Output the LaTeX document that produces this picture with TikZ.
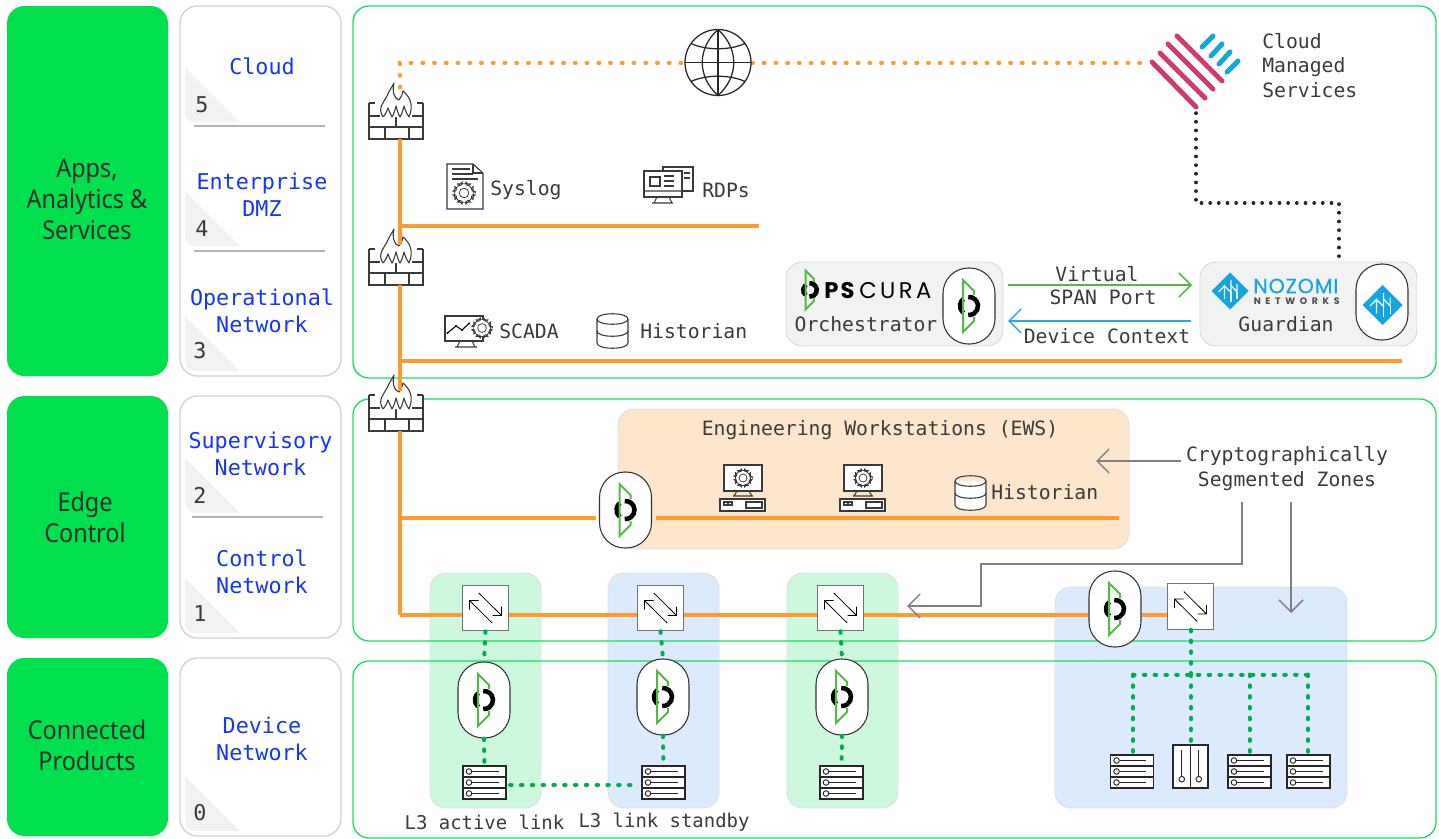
\documentclass[tikz,border=0pt]{standalone}
\usepackage{fontspec}
\usetikzlibrary{arrows.meta}
\setmainfont{DejaVu Sans Mono}
\newfontfamily\labfont[FakeStretch=0.9]{Noto Sans}
\newfontfamily\brandfont{Poppins}
\definecolor{bandgreen}{HTML}{00E04F}
\definecolor{framegreen}{HTML}{14DE62}
\definecolor{labblue}{HTML}{1437F5}
\definecolor{txt}{HTML}{3A3A3A}
\definecolor{greybd}{HTML}{D2D2D2}
\definecolor{tri}{HTML}{F1F2F2}
\definecolor{orangeln}{HTML}{FF9A2E}
\definecolor{zgreen}{HTML}{CCF8DD}
\definecolor{zblue}{HTML}{DBEBFD}
\definecolor{zpeach}{HTML}{FEE6CC}
\definecolor{dotgreen}{HTML}{00AE50}
\definecolor{logogreen}{HTML}{55B947}
\definecolor{arrblue}{HTML}{29ABE2}
\definecolor{nozblue}{HTML}{12A5DF}
\definecolor{pinkcl}{HTML}{D2386C}
\definecolor{icon}{HTML}{3A3A3A}
\tikzset{
  x=0.75pt,y=-0.75pt,
  bandbox/.style={fill=bandgreen,draw=none,rounded corners=13pt},
  levelbox/.style={fill=white,draw=greybd,line width=1pt,rounded corners=13pt},
  framebox/.style={draw=framegreen,line width=0.95pt,rounded corners=12pt},
  zonebox/.style={draw=black!12,line width=0.7pt,rounded corners=12pt},
  greybox/.style={fill=tri,draw=black!14,line width=0.7pt,rounded corners=12pt},
  sepline/.style={draw=black!30,line width=0.8pt},
  bandlabel/.style={font=\labfont\fontsize{19.5}{23.2}\selectfont,text=txt!80!black,align=center,inner sep=0},
  levellabel/.style={font=\fontsize{16.3}{20.3}\selectfont,text=labblue,align=center,inner sep=0},
  levelnum/.style={font=\fontsize{16.3}{20}\selectfont,text=txt,inner sep=0},
  monotext/.style={font=\fontsize{14.8}{18.3}\selectfont,text=txt,inner sep=0,align=center},
  monoleft/.style={monotext,anchor=west,align=left},
  smalltext/.style={font=\fontsize{14.2}{18}\selectfont,text=txt,inner sep=0,align=center},
  orangebus/.style={draw=orangeln,line width=2.4pt},
  orangedot/.style={draw=orangeln,line width=2.3pt,line cap=round,dash pattern=on 1.3pt off 7.5pt},
  blackdot/.style={draw=black!85,line width=2.6pt,line cap=round,dash pattern=on 0.2pt off 6.3pt},
  greendot/.style={draw=dotgreen,line width=3pt,line cap=round,dash pattern=on 1.2pt off 6.9pt},
  greyarrow/.style={draw=gray,line width=1.1pt,-{Straight Barb[length=9pt,width=18pt,line width=1.1pt]}},
  greenarrow/.style={draw=logogreen,line width=1.1pt,-{Straight Barb[length=9pt,width=18pt,line width=1.1pt]}},
  bluearrow/.style={draw=arrblue,line width=1.1pt,-{Straight Barb[length=9pt,width=18pt,line width=1.1pt]}},
  capsulebox/.style={rectangle,draw=black!80,fill=white,line width=0.8pt,minimum width=39pt,minimum height=57pt,rounded corners=19pt,inner sep=0},
  switchbox/.style={rectangle,draw=black!55,fill=white,line width=0.9pt,minimum width=34pt,minimum height=34pt,inner sep=0},
  serverbox/.style={rectangle,draw=none,minimum width=32pt,minimum height=25pt,inner sep=0},
  panelbox/.style={rectangle,draw=none,minimum width=26pt,minimum height=32pt,inner sep=0},
  ghost/.style={rectangle,draw=none,inner sep=0},
  iconline/.style={draw=icon,line width=0.8pt},
  pics/gearicon/.style={code={
    \draw[draw=icon,line width=0.55pt,fill=white,line join=round] (0:#1)
      \foreach \a in {0,45,...,315}{ -- (\a-8:#1) -- (\a-13:#1*0.74) -- (\a-32:#1*0.74) -- (\a-37:#1) } -- cycle;
    \draw[draw=icon,line width=0.55pt] (0,0) circle ({#1*0.42});
  }},
  pics/opslogo/.style={code={
    \draw[line width=3.4pt,black] (130:9) arc[start angle=130,end angle=230,radius=9];
    \draw[line width=3.4pt,black] (-95:9) arc[start angle=-95,end angle=95,radius=9];
    \draw[logogreen,line width=1.5pt,line join=miter] (5,-11) -- (5,-15) -- (-6,-26) -- (-6,26) -- (5,15) -- (5,11);
  }},
  pics/nozlogo/.style={code={
    \fill[nozblue] (-#1,0) -- (0,-#1) -- (#1,0) -- (0,#1) -- cycle;
    \draw[white,line width=0.9pt,line join=miter] (-#1*0.62,#1*0.05) -- (-#1*0.3,-#1*0.28) -- (-#1*0.3,#1*0.42);
    \draw[white,line width=0.9pt,line join=miter] (-#1*0.3,-#1*0.28) -- (#1*0.05,#1*0.08) -- (#1*0.05,-#1*0.6);
    \draw[white,line width=0.9pt,line join=miter] (#1*0.05,#1*0.62) -- (#1*0.05,#1*0.08);
    \draw[white,line width=0.9pt,line join=miter] (#1*0.05,-#1*0.3) -- (#1*0.38,#1*0.05) -- (#1*0.38,-#1*0.38);
    \draw[white,line width=0.9pt,line join=miter] (#1*0.38,#1*0.05) -- (#1*0.38,#1*0.45);
  }},
  pics/firewallicon/.style={code={
    \fill[white] (-27,-8) rectangle (27,28);
    \draw[iconline,line join=round] (-27,-8) -- (-21,-8) (27,-8) -- (21,-8);
    \draw[iconline] (-27,-8) -- (-27,28) -- (27,28) -- (27,-8)
      (-27,16) -- (27,16) (-27,5) -- (-16,5) (27,5) -- (16,5) (0,5) -- (0,16) (-11,16) -- (-11,28) (13,16) -- (13,28);
    \fill[white] (-13,6) .. controls (-19,-3) and (-12,-9) .. (-9,-15) .. controls (-7,-20) and (-4,-24) .. (-2,-28)
      .. controls (-4,-20) and (-2,-12) .. (3,-11) .. controls (5,-14) and (7,-17) .. (7,-20)
      .. controls (14,-14) and (18,-6) .. (13,6) -- cycle;
    \draw[iconline,line join=round] (-13,6) .. controls (-19,-3) and (-12,-9) .. (-9,-15) .. controls (-7,-20) and (-4,-24) .. (-2,-28)
      .. controls (-4,-20) and (-2,-12) .. (3,-11) .. controls (5,-14) and (7,-17) .. (7,-20)
      .. controls (14,-14) and (18,-6) .. (13,6)
      .. controls (10,2) and (9,-2) .. (8,-5) .. controls (7,-1) and (6,3) .. (4,6)
      .. controls (2,3) and (1,-2) .. (0,-5) .. controls (-1,-1) and (-2,3) .. (-4,6)
      .. controls (-6,3) and (-7,-1) .. (-8,-3) .. controls (-9,0) and (-11,4) .. (-13,6);
  }},
  pics/servericon/.style={code={
    \draw[draw=black!85,line width=0.9pt,fill=white] (-21.5,-16.5) rectangle (21.5,16.5);
    \draw[draw=black!85,line width=0.9pt] (-21.5,-5.5) -- (21.5,-5.5) (-21.5,5.5) -- (21.5,5.5);
    \foreach \r in {-11,0,11}{
      \draw[draw=black!85,line width=0.7pt] (-12.5,\r) -- (14,\r);
      \draw[draw=black!85,line width=0.7pt,fill=white] (-15.5,\r) circle (2.8);
    }
  }},
  pics/panelicon/.style={code={
    \draw[draw=black!85,line width=0.9pt,fill=white] (-17.5,-21.5) rectangle (17.5,21.5);
    \draw[draw=black!85,line width=0.9pt] (0,-21.5) -- (0,21.5);
    \foreach \c in {-8.7,8.3}{
      \draw[draw=black!85,line width=0.7pt] (\c,-17) -- (\c,10);
      \draw[draw=black!85,line width=0.7pt,fill=white] (\c,12.7) circle (2.8);
    }
  }},
  pics/switcharrows/.style={code={
    \draw[black,line width=0.6pt] (-6.7,-15) -- (16,7.5) (16,-1.5) -- (16,7.5) -- (7,7.5);
    \draw[black,line width=0.6pt] (6.7,15) -- (-16,-7.5) (-16,1.5) -- (-16,-7.5) -- (-7,-7.5);
  }},
  pics/pcicon/.style={code={
    \draw[iconline,fill=white] (-19,-13) rectangle (19,13);
    \draw[iconline] (-6,13) -- (-9,18) (6,13) -- (9,18) (-10,18) -- (10,18);
    \draw[iconline,fill=white] (-23,21) rectangle (22,33);
    \draw[iconline] (-19,24) rectangle (-15.5,27) (-14.5,24) rectangle (-11,27) (3,24) rectangle (19,30);
    \pic at (0,0) {gearicon=9.5};
  }},
  pics/dbicon/.style={code={
    \draw[iconline,fill=white] (-15.5,-12) -- (-15.5,12) .. controls (-15.5,19) and (15.5,19) .. (15.5,12) -- (15.5,-12);
    \draw[iconline] (-15.5,-12) .. controls (-15.5,-19) and (15.5,-19) .. (15.5,-12) .. controls (15.5,-5) and (-15.5,-5) .. (-15.5,-12);
    \draw[iconline] (-15.5,0) .. controls (-15.5,7) and (15.5,7) .. (15.5,0);
  }},
}
\begin{document}
\begin{tikzpicture}
\useasboundingbox (0,0) rectangle (1439,839);
% left column
\draw[bandbox] (7,6) rectangle (168,376);
\draw[bandbox] (7,396) rectangle (168,638);
\draw[bandbox] (7,658) rectangle (168,836);
\node[bandlabel] (bApps) at (87,199) {Apps,\\Analytics \&\\Services};
\node[bandlabel] (bEdge) at (85,517) {Edge\\Control};
\node[bandlabel] (bProd) at (87,745) {Connected\\Products};
% level column
\draw[levelbox] (180,6) rectangle (341,376);
\draw[levelbox] (180,396) rectangle (341,638);
\draw[levelbox] (180,658) rectangle (341,836);
\foreach \t in {67,191,316,458,578,776}{
  \fill[tri] (185,\t) -- (185,\t+45) .. controls (185,\t+51) and (189,\t+55) .. (195,\t+55) -- (240,\t+55) -- cycle;
}
\draw[sepline] (194,126) -- (325,126) (194,251) -- (325,251) (192,517) -- (323,517);
\node[levellabel] (lCloud) at (262,66) {Cloud};
\node[levellabel] (lDmz) at (262,194.5) {Enterprise\\DMZ};
\node[levellabel] (lOp) at (262,310.5) {Operational\\Network};
\node[levellabel] (lSup) at (260.5,453.5) {Supervisory\\Network};
\node[levellabel] (lCtl) at (262,571.5) {Control\\Network};
\node[levellabel] (lDev) at (262,738.5) {Device\\Network};
\node[levelnum] (n5) at (202,105) {5};
\node[levelnum] (n4) at (202,229) {4};
\node[levelnum] (n3) at (200,351) {3};
\node[levelnum] (n2) at (200,495) {2};
\node[levelnum] (n1) at (200,614) {1};
\node[levelnum] (n0) at (200,813) {0};
% zones
\draw[zonebox,fill=zgreen] (430,573) rectangle (541,808);
\draw[zonebox,fill=zblue] (608,573) rectangle (719,808);
\draw[zonebox,fill=zgreen] (787,573) rectangle (898,808);
\draw[zonebox,fill=zblue] (1055,587) rectangle (1347,808);
\draw[zonebox,fill=zpeach] (618,409) rectangle (1129,549);
% frames
\draw[framebox] (353,6) rectangle (1436,378);
\draw[framebox] (353,399) rectangle (1436,641);
\draw[framebox] (353,661) rectangle (1436,838);
% grey boxes
\draw[greybox] (786,262) rectangle (1003,346);
\draw[greybox] (1200,262) rectangle (1417,346);
% named anchors
\node[capsulebox] (capOrch) at (969,306) {};
\node[capsulebox] (capGuard) at (1382,302) {};
\node[capsulebox] (capEws) at (625.5,510) {};
\node[capsulebox] (capA) at (484,700) {};
\node[capsulebox] (capB) at (663,697) {};
\node[capsulebox] (capC) at (842,697) {};
\node[capsulebox] (capD) at (1115,609) {};
\node[switchbox] (swA) at (485.5,608) {};
\node[switchbox] (swB) at (660.5,608) {};
\node[switchbox] (swC) at (840.5,608) {};
\node[switchbox] (swD) at (1190.5,606.5) {};
\node[serverbox] (srvA) at (484.5,782.5) {};
\node[serverbox] (srvB) at (663.5,782.5) {};
\node[serverbox] (srvC) at (841.5,782.5) {};
\node[serverbox] (srvD) at (1132,771.5) {};
\node[panelbox] (panE) at (1190.5,766.5) {};
\node[serverbox] (srvF) at (1249.5,771.5) {};
\node[serverbox] (srvG) at (1308.5,771.5) {};
\node[ghost,minimum width=50pt,minimum height=50pt] (globe) at (718,62.5) {};
\node[ghost,minimum width=54pt,minimum height=42pt] (fwA) at (396,111) {};
\node[ghost,minimum width=54pt,minimum height=42pt] (fwB) at (396,257) {};
\node[ghost,minimum width=54pt,minimum height=42pt] (fwC) at (396,403) {};
\coordinate (cloudL) at (1150,63);
\coordinate (cloudB) at (1196,113);
\coordinate (cornerA) at (1196,203);
\coordinate (cornerB) at (1339,203);
\coordinate (guardTop) at (1339,262);
\coordinate (dotDrop) at (400,88);
\coordinate (dotCorner) at (400,63);
\coordinate (fwAo) at (400,139);
\coordinate (fwBi) at (400,245);
\coordinate (fwBo) at (400,285);
\coordinate (fwCi) at (400,391);
\coordinate (fwCo) at (400,431);
\coordinate (busDmz) at (400,226);
\coordinate (busDmzE) at (759,226);
\coordinate (busOp) at (400,361);
\coordinate (busOpE) at (1402,361);
\coordinate (busSup) at (400,518);
\coordinate (busSupE) at (1119,518);
\coordinate (busCtl) at (400,615);
\coordinate (treeL) at (1133,674.5);
\coordinate (treeM) at (1191,674.5);
\coordinate (treeF) at (1249.5,674.5);
\coordinate (treeR) at (1308,674.5);
% firewalls first so the drop line shows over the flames
\pic at (fwA) {firewallicon};
\pic at (fwB) {firewallicon};
\pic at (fwC) {firewallicon};
% orange network
\draw[orangedot] (dotDrop) -- (dotCorner) -- (globe.west |- dotCorner);
\draw[orangedot] (globe.east |- dotCorner) -- (cloudL);
\draw[orangebus] (fwAo) -- (fwBi);
\draw[orangebus] (fwBo) -- (fwCi);
\draw[orangebus] (fwCo) -- (busCtl);
\draw[orangebus] (busDmz) -- (busDmzE);
\draw[orangebus] (busOp) -- (busOpE);
\draw[orangebus,shorten >=2.5pt] (busSup) -- (capEws.west |- busSup);
\draw[orangebus,shorten <=3pt] (capEws.east |- busSup) -- (busSupE);
\draw[orangebus] (busCtl) -- (swA.west |- busCtl);
\draw[orangebus] (swA.east |- busCtl) -- (swB.west |- busCtl);
\draw[orangebus] (swB.east |- busCtl) -- (swC.west |- busCtl);
\draw[orangebus] (swC.east |- busCtl) -- (capD.west |- busCtl);
\draw[orangebus] (capD.east |- busCtl) -- (swD.west |- busCtl);
% dotted
\draw[blackdot] (cloudB) -- (cornerA) -- (cornerB) -- (guardTop);
\draw[greendot] (swA.south) -- (capA.north);
\draw[greendot] (swB.south) -- (capB.north);
\draw[greendot] (swC.south) -- (capC.north);
\draw[greendot] (capA.south) -- (srvA.north);
\draw[greendot] (capB.south) -- (srvB.north);
\draw[greendot] (capC.south) -- (srvC.north);
\draw[greendot,shorten <=3pt,shorten >=3pt] (srvA.east |- 0,785) -- (srvB.west |- 0,785);
\draw[greendot] (swD.south -| treeM) -- (treeM);
\draw[greendot] (treeL) -- (treeR);
\draw[greendot] (treeL) -- (srvD.north -| treeL);
\draw[greendot] (treeM) -- (panE.north -| treeM);
\draw[greendot] (treeF) -- (srvF.north -| treeF);
\draw[greendot] (treeR) -- (srvG.north -| treeR);
% icons
\foreach \c in {capOrch,capEws,capA,capB,capC,capD}{ \pic at (\c) {opslogo}; }
\pic at (1382.5,305) {nozlogo=20};
\pic at (1230,291) {nozlogo=18.5};
\foreach \s in {swA,swB,swC,swD}{ \pic at (\s) {switcharrows}; }
\foreach \s in {srvA,srvB,srvC,srvD,srvF,srvG}{ \pic at (\s) {servericon}; }
\pic at (panE) {panelicon};
% globe
\begin{scope}[shift={(718,62.5)},draw=black!85,line width=0.95pt]
\draw[fill=white] (0,0) circle (33);
\draw (0,-33) -- (0,33) (-33,0) -- (33,0);
\draw (0,-33) .. controls (-21,-14) and (-21,14) .. (0,33) .. controls (21,14) and (21,-14) .. (0,-33);
\draw (-27,-19) .. controls (-12,-12) and (12,-12) .. (27,-19);
\draw (-27,19) .. controls (-12,12) and (12,12) .. (27,19);
\end{scope}
% cloud logo
\foreach \a/\b/\c/\d in {1152/62/1196/107,1160/53/1205/98,1168/44/1213/89,1177/36/1222/81}{
  \draw[pinkcl,line width=3.7pt,line cap=round] (\a,\b) -- (\c,\d);
}
\foreach \a/\b/\c/\d in {1202/47/1213/36,1211/56/1222/44,1219/64/1230/52,1227/72/1238/61}{
  \draw[nozblue,line width=3.7pt,line cap=round] (\a,\b) -- (\c,\d);
}
\node[monoleft] (tCloud) at (1262,65.5) {Cloud\\Managed\\Services};
% syslog icon
\draw[iconline,fill=white] (447,164) -- (473,164) -- (483,173) -- (483,209) -- (447,209) -- cycle;
\draw[iconline] (473,164) -- (473,173) -- (483,173);
\draw[iconline] (452,169) -- (470,169) (452,174) -- (473,174) (452,179) -- (478,179);
\pic at (464,193) {gearicon=11.5};
\node[monoleft] (tSyslog) at (490,190) {Syslog};
% RDP icon
\draw[iconline] (663,171) -- (663,167) -- (693,167) -- (693,191) -- (682,191);
\draw[iconline,fill=white] (644,171) rectangle (682,197);
\draw[iconline] (644,191) -- (682,191) (657,197) -- (654,203) (669,197) -- (672,203) (652,203) -- (673,203);
\draw[iconline] (650,177) rectangle (660,186) (664,176) -- (674,176) (664,181) -- (674,181) (664,186) -- (674,186) (684,173) -- (690,173) (684,178) -- (690,178);
\node[monoleft] (tRdp) at (702,190) {RDPs};
% SCADA icon
\draw[iconline,fill=white] (445,316) rectangle (483,341);
\draw[iconline] (460,341) -- (457,347) (472,341) -- (475,347) (455,347) -- (477,347);
\draw[black,line width=0.8pt] (447.5,333) -- (456,326) -- (462,330) -- (469,323.5);
\fill[black] (447.5,333) circle (1.2) (456,326) circle (1.2) (462,330) circle (1.2) (469,323.5) circle (1.2);
\pic at (482,328) {gearicon=10.5};
\node[monoleft] (tScada) at (499,331) {SCADA};
% historian
\pic at (612.5,331) {dbicon};
\node[monoleft] (tHist) at (640,331.5) {Historian};
% EWS
\node[monotext] (tEws) at (880,430.5) {Engineering Workstations (EWS)};
\pic at (743,478) {pcicon};
\pic at (863,478) {pcicon};
\pic at (970.5,493) {dbicon};
\node[monoleft] (tHistB) at (991,492.5) {Historian};
% crypt
\node[monotext] (tCrypt) at (1287,468.5) {Cryptographically\\Segmented Zones};
\coordinate (cryA) at (1181,461);
\coordinate (cryAe) at (1096,461);
\coordinate (cryB) at (1242,502);
\coordinate (cryB1) at (1242,564);
\coordinate (cryB2) at (981,564);
\coordinate (cryB3) at (981,606);
\coordinate (cryBe) at (907,606);
\coordinate (cryC) at (1291,502);
\coordinate (cryCe) at (1291,613);
\draw[greyarrow] (cryA) -- (cryAe);
\draw[greyarrow] (cryB) -- (cryB1) -- (cryB2) -- (cryB3) -- (cryBe);
\draw[greyarrow] (cryC) -- (cryCe);
% arrows between products
\coordinate (vsS) at (1008,285);
\coordinate (vsE) at (1192,285);
\coordinate (dcS) at (1191,321);
\coordinate (dcE) at (1008,321);
\draw[greenarrow] (vsS) -- (vsE);
\draw[bluearrow] (dcS) -- (dcE);
\node[monotext] (tVirt) at (1097,274) {Virtual};
\node[monotext] (tSpan) at (1103,297) {SPAN Port};
\node[monotext] (tDev) at (1107,336) {Device Context};
\node[monotext] (tOrch) at (866,324) {Orchestrator};
\node[monotext] (tGuard) at (1286,324) {Guardian};
% wordmarks
\pic[scale=0.75] at (810,290) {opslogo};
\node[inner sep=0,anchor=west,text=black] (wOps) at (824,291) {\brandfont\fontsize{17}{17}\selectfont\addfontfeature{LetterSpace=10}\textbf{PS}};
\node[inner sep=0,anchor=west,text=black] (wCura) at (859,291) {\brandfont\fontsize{17}{17}\selectfont\addfontfeature{LetterSpace=15}CURA};
\node[inner sep=0,anchor=west,text=nozblue] (wNoz) at (1253,286) {\brandfont\fontsize{15.5}{16}\selectfont\addfontfeature{LetterSpace=4,FakeBold=0.4}NOZOMI};
\node[inner sep=0,anchor=west,text=black!70] (wNet) at (1253.5,301.5) {\brandfont\fontsize{7}{8}\selectfont\addfontfeature{LetterSpace=50}\textbf{NETWORKS}};
% bottom labels
\node[smalltext] (tAct) at (484.5,822) {L3 active link};
\node[smalltext] (tStb) at (664,822) {L3 link standby};
\end{tikzpicture}
\end{document}
